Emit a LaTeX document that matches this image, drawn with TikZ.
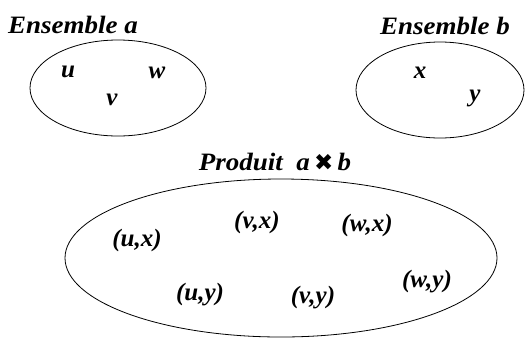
\documentclass[tikz,border=0pt]{standalone}
\usepackage{fontspec}
\setmainfont{Liberation Serif}
\newfontfamily\widefont[FakeStretch=1.08]{Liberation Serif}
\newfontfamily\symfont{DejaVu Sans}
\begin{document}
\begin{tikzpicture}[x=1pt,y=-1pt,
  setshape/.style={draw=black,line width=0.8pt},
  lbl/.style={font=\widefont\fontsize{25}{28}\selectfont\bfseries\itshape,inner sep=0pt},
  elem/.style={font=\fontsize{25}{28}\selectfont\bfseries\itshape,inner sep=0pt}]
\useasboundingbox (0,0) rectangle (526,338);
\draw[setshape] (118,88) ellipse [x radius=88,y radius=48];
\draw[setshape] (440,90) ellipse [x radius=84,y radius=48];
\draw[setshape] (281,258) ellipse [x radius=216,y radius=79];
\node[lbl] (ta) at (73,25) {Ensemble a};
\node[lbl] (tb) at (445,26) {Ensemble b};
\node[lbl] (tp) at (275,162) {Produit \ a\,{\symfont\fontsize{23}{26}\selectfont ✖}\,b};
\node[elem] (u) at (68,72) {u};
\node[elem] (w) at (157,73) {w};
\node[elem] (v) at (112,100) {v};
\node[elem] (x) at (420,73) {x};
\node[elem] (y) at (475,98) {y};
\node[elem] (ux) at (137,240) {(u,x)};
\node[elem] (vx) at (257,222) {(v,x)};
\node[elem] (wx) at (367,225) {(w,x)};
\node[elem] (uy) at (200,295) {(u,y)};
\node[elem] (vy) at (313,298) {(v,y)};
\node[elem] (wy) at (427,282) {(w,y)};
\end{tikzpicture}
\end{document}
